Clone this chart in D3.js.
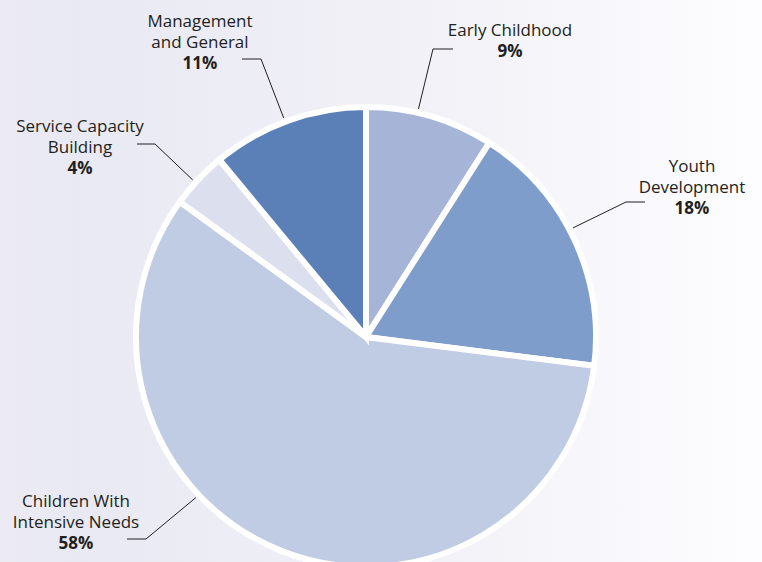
<!DOCTYPE html>
<html>
<head>
<meta charset="utf-8">
<script src="https://cdn.jsdelivr.net/npm/d3@7"></script>
<style>
  html, body { margin: 0; padding: 0; }
  svg { display: block; }
  text { font-family: "Open Sans", "Noto Sans", sans-serif; fill: #231f20; }
</style>
</head>
<body>
<svg id="chart" width="762" height="562"></svg>
<script>
// Spending by program area (percent of total)
const categories = [
  "Early Childhood",
  "Youth Development",
  "Children With Intensive Needs",
  "Service Capacity Building",
  "Management and General"
];
const percents = [9, 18, 58, 4, 11];
const labelLines = [
  ["Early Childhood"],
  ["Youth", "Development"],
  ["Children With", "Intensive Needs"],
  ["Service Capacity", "Building"],
  ["Management", "and General"]
];
const sliceColors = ["#a6b5d7", "#7f9dca", "#c0cbe4", "#dcdfee", "#5b80b8"];

// Label placement: text centre, first baseline, leader elbow/end and
// where along the slice's arc the leader touches the pie.
const labelLayout = [
  { x: 510, y: 36,  elbow: [433, 49],  end: [453, 49],  t: 0.40 },
  { x: 692, y: 172, elbow: [626, 202], end: [645, 202], t: 0.46 },
  { x: 76,  y: 507, elbow: [146, 539], end: [127, 539], t: 0.62 },
  { x: 80,  y: 132, elbow: [155, 144], end: [137, 144], t: 0.43 },
  { x: 200, y: 27,  elbow: [261, 59],  end: [242, 59],  t: 0.48 }
];

const width = 762, height = 562;
const cx = 366, cy = 337, radius = 230;
const lineH = 21;

const svg = d3.select("#chart");

// soft lavender-to-white backdrop
const defs = svg.append("defs");
const grad = defs.append("linearGradient").attr("id", "bg")
  .attr("x1", "0").attr("y1", "0").attr("x2", "1").attr("y2", "0");
grad.append("stop").attr("offset", "0").attr("stop-color", "#ecebf4");
grad.append("stop").attr("offset", "0.1").attr("stop-color", "#e9e9f3");
grad.append("stop").attr("offset", "0.6").attr("stop-color", "#f3f2f8");
grad.append("stop").attr("offset", "1").attr("stop-color", "#fdfcfe");
svg.append("rect").attr("width", width).attr("height", height).attr("fill", "url(#bg)");

const data = categories.map((c, i) => ({
  name: c, value: percents[i], color: sliceColors[i], lines: labelLines[i], layout: labelLayout[i]
}));

const pie = d3.pie().value(d => d.value).sort(null);
const arc = d3.arc().innerRadius(0).outerRadius(radius);
const arcs = pie(data);

const g = svg.append("g").attr("transform", `translate(${cx},${cy})`);

g.selectAll("path.slice")
  .data(arcs)
  .join("path")
  .attr("class", "slice")
  .attr("d", arc)
  .attr("fill", d => d.data.color)
  .attr("stroke", "#ffffff")
  .attr("stroke-width", 6)
  .attr("stroke-linejoin", "miter");

// leader lines
const touchR = radius + 4;
svg.selectAll("path.leader")
  .data(arcs)
  .join("path")
  .attr("class", "leader")
  .attr("d", d => {
    const L = d.data.layout;
    const a = d.startAngle + (d.endAngle - d.startAngle) * L.t;
    const px = cx + touchR * Math.sin(a);
    const py = cy - touchR * Math.cos(a);
    return d3.line()([[px, py], L.elbow, L.end]);
  })
  .attr("fill", "none")
  .attr("stroke", "#231f20")
  .attr("stroke-width", 1);

// labels
const labels = svg.selectAll("g.label")
  .data(arcs)
  .join("g")
  .attr("class", "label");

labels.each(function(d) {
  const L = d.data.layout;
  const t = d3.select(this).append("text")
    .attr("text-anchor", "middle")
    .attr("font-size", 17);
  d.data.lines.forEach((ln, i) => {
    t.append("tspan").attr("x", L.x).attr("y", L.y + i * lineH).text(ln);
  });
  t.append("tspan")
    .attr("x", L.x)
    .attr("y", L.y + d.data.lines.length * lineH)
    .attr("font-weight", "bold")
    .text(d.data.value + "%");
});
</script>
</body>
</html>
